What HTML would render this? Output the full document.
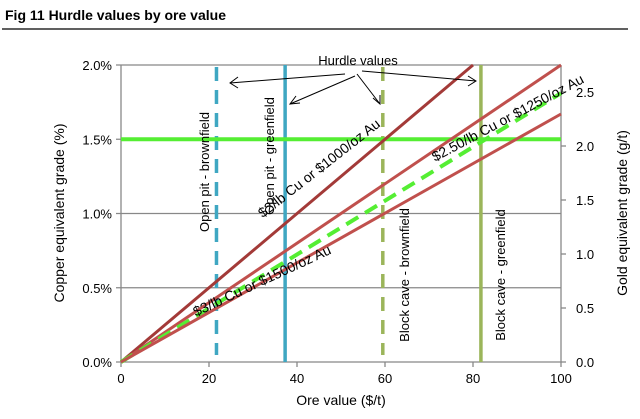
<!DOCTYPE html>
<html><head><meta charset="utf-8"><style>
body{margin:0;background:#fff;}
svg{display:block;font-family:"Liberation Sans",Arial,sans-serif;}
</style></head><body>
<svg id="c" width="640" height="419"></svg>
<script>
const cuTicks=[0,0.5,1.0,1.5,2.0];
const cuLabels=["0.0%","0.5%","1.0%","1.5%","2.0%"];
const auTicks=[0,0.5,1.0,1.5,2.0,2.5];
const auLabels=["0.0","0.5","1.0","1.5","2.0","2.5"];
const xTicks=[0,20,40,60,80,100];
const priceNames=["$2/lb Cu or $1000/oz Au","$2.50/lb Cu or $1250/oz Au","hurdle-curve","$3/lb Cu or $1500/oz Au"];
const gradeAt100=[2.5,2.0,1.81,1.67];
const hurdleNames=["Open pit - brownfield","Open pit - greenfield","Block cave - brownfield","Block cave - greenfield"];
const hurdleValues=[21.7,37.3,59.5,81.8];
const hurdleGrade=1.5;

const NS="http://www.w3.org/2000/svg";
const svg=document.getElementById('c');
const X0=121,X1=561,Y0=362,Y1=65;
const xs=v=>X0+(v/100)*(X1-X0);
const ys=v=>Y0-(v/2.0)*(Y0-Y1);
const ya=v=>Y0-(v/2.75)*(Y0-Y1);
function el(t,a,txt){const e=document.createElementNS(NS,t);for(const k in a)e.setAttribute(k,a[k]);if(txt!=null)e.textContent=txt;svg.appendChild(e);return e;}

let t=el('text',{x:5,y:20,'font-size':14,'font-weight':'bold'},'Fig 11   Hurdle values by ore value');


let r=el('line',{x1:2,x2:628,y1:29,y2:29,stroke:'#000','stroke-width':1.2});



cuTicks.forEach((v,i)=>{
  const g=el('line',{x1:X0-5,x2:X1,y1:ys(v),y2:ys(v),stroke:'#888','stroke-width':1.3});
  
  
  const l=el('text',{x:X0-9,y:ys(v)+5,'font-size':13,'text-anchor':'end'},cuLabels[i]);
  
  
});
let ax=el('line',{x1:X0,x2:X0,y1:Y1,y2:Y0,stroke:'#888','stroke-width':1.3});


let ax2=el('line',{x1:X1,x2:X1,y1:Y1,y2:Y0,stroke:'#888','stroke-width':1.3});


xTicks.forEach((v,i)=>{
  const k=el('line',{x1:xs(v),x2:xs(v),y1:Y0,y2:Y0+5,stroke:'#888','stroke-width':1.3});
  
  
  const l=el('text',{x:xs(v),y:Y0+21,'font-size':13,'text-anchor':'middle'},String(v));
  
  
});
auTicks.forEach((v,i)=>{
  const k=el('line',{x1:X1,x2:X1+5,y1:ya(v),y2:ya(v),stroke:'#888','stroke-width':1.3});
  
  
  const l=el('text',{x:X1+15,y:ya(v)+5,'font-size':13},auLabels[i]);
  
  
});

const vcol=['#3fa7c2','#3fa7c2','#9bb55a','#9bb55a'];
hurdleValues.forEach((v,i)=>{
  const dashed=(i%2===0);
  const a={x1:xs(v),x2:xs(v),y1:dashed?Y1+2:Y1,y2:dashed?Y0-7:Y0,stroke:vcol[i],'stroke-width':3.5};
  if(dashed)a['stroke-dasharray']='14,9';
  const ln=el('line',a);
  
  
});
let h=el('line',{x1:X0,x2:X1,y1:ys(hurdleGrade),y2:ys(hurdleGrade),stroke:'#55ee33','stroke-width':4});



gradeAt100.forEach((g,i)=>{
  let xe=100,ye=g;
  if(g>2.0){xe=100*2.0/g;ye=2.0;}
  const a={x1:xs(0),y1:ys(0),x2:xs(xe),y2:ys(ye),stroke:i===0?'#a33a38':'#c0504d','stroke-width':3};
  if(i===2){a.stroke='#55ee33';a['stroke-dasharray']='14,8';a['stroke-width']=4;}
  const ln=el('line',a);
  
  
});

function rot(x,y,ang,txt,name,fs){
  const e=el('text',{x:x,y:y,'font-size':fs||13,'text-anchor':'middle',transform:`rotate(${ang} ${x} ${y})`},txt);
  
  
}
rot(209,172,-90,hurdleNames[0],'label-op-brownfield');
rot(274,156,-90,hurdleNames[1],'label-op-greenfield');
rot(409,275,-90,hurdleNames[2],'label-bc-brownfield');
rot(505,275,-90,hurdleNames[3],'label-bc-greenfield');
rot(322,172,-38,priceNames[0],'label-2-cu',14);
rot(510,122,-28,priceNames[1],'label-250-cu',14);
rot(264,285,-25,priceNames[3],'label-3-cu',14);

let hv=el('text',{x:358,y:65,'font-size':13,'text-anchor':'middle'},'Hurdle values');


const arrows=[[345,74,230,83],[355,76,290,104],[357,74,380,104],[362,71,476,81]];
const aw=[[238,77,230,83,238,88],[296,96,290,104,300,103],[380,95,380,104,373,98],[468,76,476,81,468,86]];
arrows.forEach((a,i)=>{
  const l=el('line',{x1:a[0],y1:a[1],x2:a[2],y2:a[3],stroke:'#000','stroke-width':1});
  
  
  const p=el('polyline',{points:`${aw[i][0]},${aw[i][1]} ${aw[i][2]},${aw[i][3]} ${aw[i][4]},${aw[i][5]}`,fill:'none',stroke:'#000','stroke-width':1});
  
  
});

let xt=el('text',{x:341,y:405,'font-size':14,'text-anchor':'middle'},'Ore value ($/t)');


rot(64,213,-90,'Copper equivalent grade (%)','y-axis-title',14);
rot(627,213,-90,'Gold equivalent grade (g/t)','right-axis-title',14);
</script>
</body></html>
